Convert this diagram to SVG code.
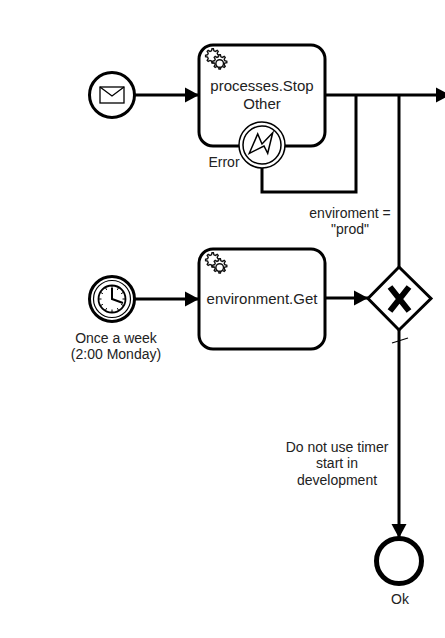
<svg xmlns="http://www.w3.org/2000/svg" width="445" height="638" viewBox="0 0 445 638">
<style>
text{font-family:"Liberation Sans",Arial,sans-serif;font-size:15px;fill:#222;text-anchor:middle}
.lbl{font-size:14px}
.ev{fill:#fff;stroke:#000;stroke-width:3}
.task{fill:#fff;stroke:#000;stroke-width:3}
.flow{fill:none;stroke:#000;stroke-width:3}
.thin{fill:none;stroke:#000;stroke-width:1.5}
.tick{fill:none;stroke:#000;stroke-width:1.3}
.cog{fill:#fff;stroke:#111;stroke-width:1.400}
</style>
<defs>
<marker id="arrow" markerUnits="userSpaceOnUse" markerWidth="15" markerHeight="16" refX="14" refY="7.500" orient="auto" viewBox="0 0 15 15"><path d="M0 0L14 7.500L0 15Z" fill="#000"/></marker>
<g id="gear">
<path class="cog" d="M8 0.800l1.400 0 .5 2 1.500.6 1.800-1 1 1-1 1.800.6 1.500 2 .5 0 1.400-2 .5-.6 1.500 1 1.800-1 1-1.800-1-1.500.6-.5 2-1.400 0-.5-2-1.500-.6-1.800 1-1-1 1-1.800-.6-1.500-2-.5 0-1.400 2-.5.6-1.500-1-1.800 1-1 1.800 1 1.500-.6z"/>
<path class="cog" d="M15 6.800l1.400 0 .5 2 1.500.6 1.800-1 1 1-1 1.800.6 1.500 2 .5 0 1.400-2 .5-.6 1.500 1 1.800-1 1-1.800-1-1.500.6-.5 2-1.400 0-.5-2-1.500-.6-1.800 1-1-1 1-1.800-.6-1.500-2-.5 0-1.400 2-.5.6-1.500-1-1.800 1-1 1.800 1 1.500-.6z"/>
<circle class="cog" cx="15.700" cy="15.500" r="3.800"/>
</g>
</defs>
<g id="connectors">
<path class="flow" d="M135 95H199" marker-end="url(#arrow)"/>
<path class="flow" d="M325 95H450" marker-end="url(#arrow)"/>
<path class="flow" d="M356 95V192H262V168"/>
<path class="flow" d="M399 267V95"/>
<path class="flow" d="M135 299H199" marker-end="url(#arrow)"/>
<path class="flow" d="M325 298H368" marker-end="url(#arrow)"/>
<path class="flow" d="M399 330V538" marker-end="url(#arrow)"/>
<path class="tick" d="M392 343L408 338"/>
</g>
<g id="start-message">
<circle class="ev" cx="112" cy="95" r="22.500"/>
<rect x="100" y="87" width="24" height="16" fill="#fff" stroke="#000" stroke-width="1.300"/>
<path d="M100 87L112 96L124 87" fill="none" stroke="#000" stroke-width="1.300"/>
</g>
<g id="task-stop">
<rect class="task" x="199" y="45" width="126" height="101" rx="14"/>
<use href="#gear" x="204" y="48"/>
<text x="262" y="91">processes.Stop</text>
<text x="262" y="109">Other</text>
</g>
<g id="boundary-error">
<circle cx="262" cy="145" r="23" fill="#fff" stroke="#000" stroke-width="1.500"/>
<circle cx="262" cy="145" r="19" fill="#fff" stroke="#000" stroke-width="1.500"/>
<path class="thin" d="M249.300 153.300L257.700 134L262 144L272.700 132.700L267.700 153.300L264 146Z"/>
<text class="lbl" x="224" y="167">Error</text>
</g>
<g id="start-timer">
<circle class="ev" cx="112" cy="299" r="22.500"/>
<circle cx="112" cy="299" r="18.500" fill="#fff" stroke="#000" stroke-width="1.200"/>
<circle cx="112" cy="299" r="13.500" fill="none" stroke="#000" stroke-width="1.800"/>
<path d="M112 285.500v3M112 312.500v-3M98.500 299h3M125.500 299h-3M105.200 287.300l1.500 2.600M118.800 310.700l-1.500-2.600M100.300 292.200l2.600 1.500M123.700 305.800l-2.600-1.500M118.800 287.300l-1.500 2.600M105.200 310.700l1.500-2.600M123.700 292.200l-2.600 1.500M100.300 305.800l2.600-1.500" fill="none" stroke="#000" stroke-width="1"/>
<path d="M112 288V299L123 303" fill="none" stroke="#000" stroke-width="2"/>
<text class="lbl" x="116" y="343">Once a week</text>
<text class="lbl" x="116" y="359">(2:00 Monday)</text>
</g>
<g id="task-env">
<rect class="task" x="199" y="249" width="126" height="100" rx="14"/>
<use href="#gear" x="204" y="252"/>
<text x="262" y="304">environment.Get</text>
</g>
<g id="gateway">
<path d="M399 267L431 298.500L399 330L368 298.500Z" fill="#fff" stroke="#000" stroke-width="3"/>
<path d="M390 287L409 311M409 287L390 311" fill="none" stroke="#000" stroke-width="6"/>
</g>
<g id="end-ok">
<circle cx="399" cy="561" r="22.500" fill="#fff" stroke="#000" stroke-width="5"/>
<text class="lbl" x="400" y="604">Ok</text>
</g>
<g id="labels">
<text class="lbl" x="350" y="218">enviroment =</text>
<text class="lbl" x="350" y="234">"prod"</text>
<text class="lbl" x="337" y="452">Do not use timer</text>
<text class="lbl" x="337" y="468">start in</text>
<text class="lbl" x="337" y="485">development</text>
</g>
</svg>
